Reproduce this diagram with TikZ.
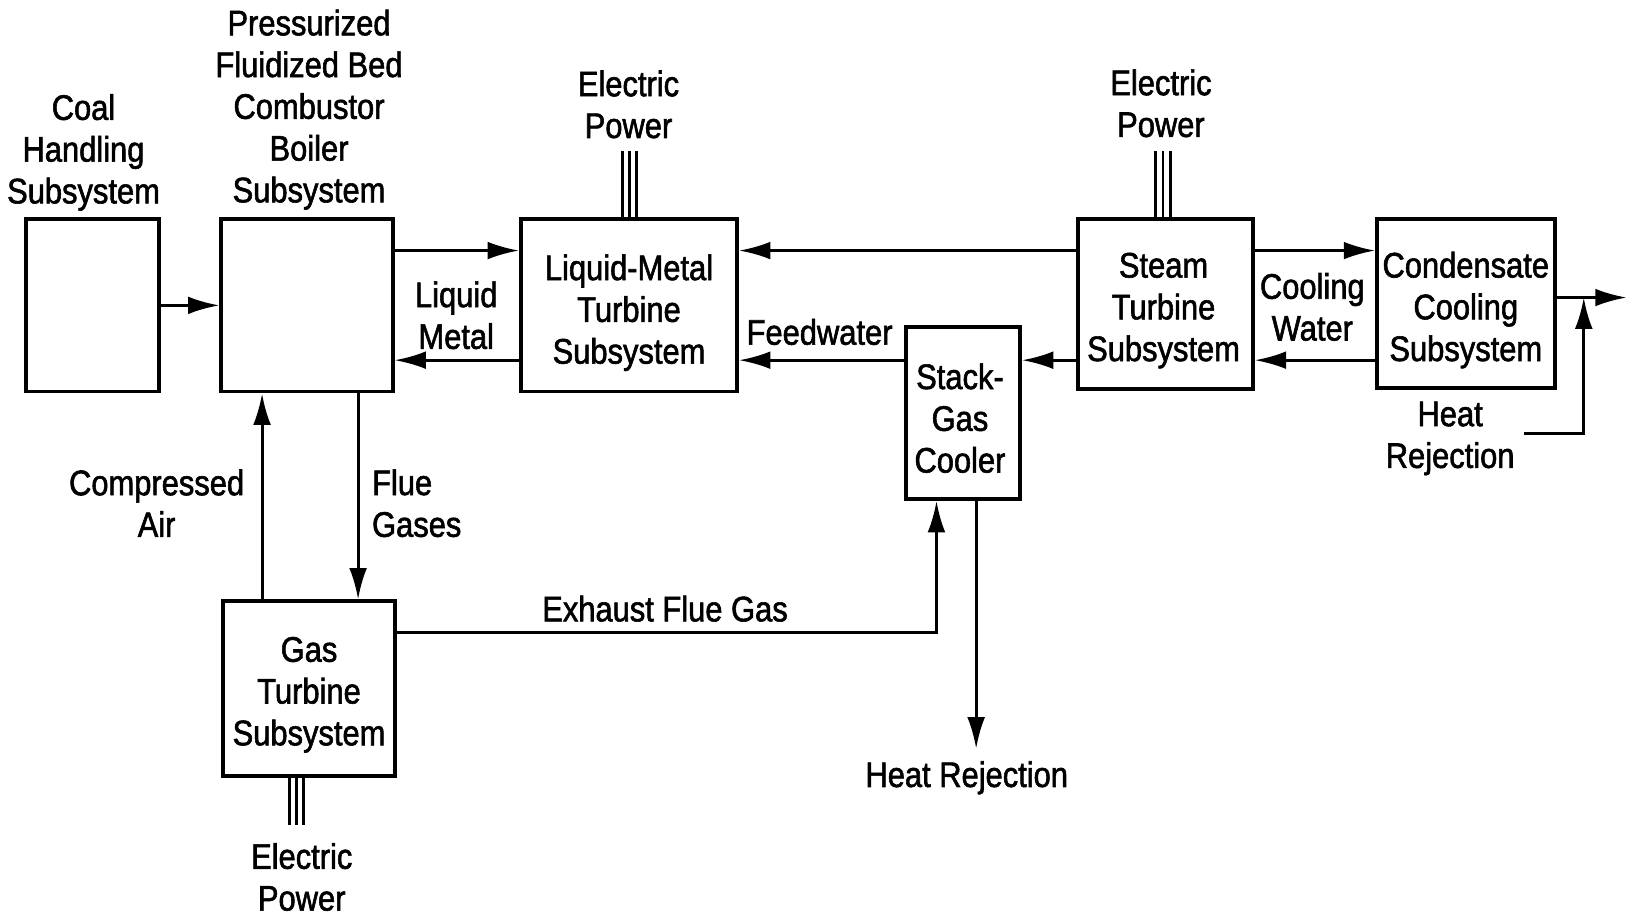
\documentclass[tikz,border=0pt]{standalone}
\usepackage{fontspec}
\setmainfont{Liberation Sans}[FakeStretch=0.87,FakeBold=1.6]
\usetikzlibrary{arrows.meta,calc}
\begin{document}
\begin{tikzpicture}[x=0.5pt,y=-0.5pt,
  every node/.style={font=\fontsize{17}{20}\selectfont},
  box/.style={draw,line width=1.9pt,inner sep=0pt},
  lbl/.style={align=center,inner sep=0pt},
  flow/.style={line width=1.4pt,-{Latex[length=15pt,width=8.5pt]}},
  wire/.style={line width=1.4pt}]
\useasboundingbox (0,0) rectangle (1568,878);
% boxes
\node[box,minimum width=63.5pt,minimum height=82.5pt] (coal) at (88.5,292.5) {};
\node[box,minimum width=82pt,minimum height=82.5pt] (pfbc) at (294,292.5) {};
\node[box,minimum width=103.5pt,minimum height=82.5pt] (lm) at (602.5,292.5) {};
\node[box,minimum width=83.5pt,minimum height=81.5pt] (steam) at (1116.5,291.5) {};
\node[box,minimum width=54.5pt,minimum height=82.5pt] (stack) at (922.5,395.5) {};
\node[box,minimum width=85pt,minimum height=81pt] (cond) at (1404,291) {};
\node[box,minimum width=82pt,minimum height=83.5pt] (gt) at (296,659.5) {};
% box texts
\node[lbl] (lmT) at ($(lm.center)+(0,7)$) {Liquid-Metal\\Turbine\\Subsystem};
\node[lbl] (steamT) at ($(steam.center)+(-2,6)$) {Steam\\Turbine\\Subsystem};
\node[lbl] (stackT) at ($(stack.center)+(-3,5)$) {Stack-\\Gas\\Cooler};
\node[lbl] (condT) at ($(cond.center)+(0,6)$) {Condensate\\Cooling\\Subsystem};
\node[lbl] (gtT) at ($(gt.center)+(0,6)$) {Gas\\Turbine\\Subsystem};
% labels
\node[lbl] (coalL) at (80,146) {Coal\\Handling\\Subsystem};
\node[lbl] (pfbcL) at (296,105) {Pressurized\\Fluidized Bed\\Combustor\\Boiler\\Subsystem};
\node[lbl] (epLM) at (602,100) {Electric\\Power};
\node[lbl] (epST) at (1112,99) {Electric\\Power};
\node[lbl] (epGT) at (289,840) {Electric\\Power};
\node[lbl] (lmL) at (437,302) {Liquid\\Metal};
\node[lbl] (cwL) at (1257,294) {Cooling\\Water};
\node[lbl] (fwL) at (785,318) {Feedwater};
\node[lbl] (caL) at (150,482) {Compressed\\Air};
\node[lbl,align=left,anchor=west] (fgL) at (356,482) {Flue\\Gases};
\node[lbl] (hrR) at (1389,420) {Heat\\Rejection};
\node[lbl] (efL) at (637,583) {Exhaust Flue Gas};
\node[lbl] (hrB) at (926,745) {Heat Rejection};
% helper coordinates
\coordinate (yTop) at (0,240);
\coordinate (yBot) at (0,345);
\coordinate (yOut) at (0,285);
\coordinate (xAir) at (251,0);
\coordinate (xFlue) at (343,0);
\coordinate (yEx) at (0,606);
\coordinate (xEx) at (897,0);
\coordinate (xHR) at (935,0);
\coordinate (hrEnd) at (935,717);
\coordinate (outEnd) at (1558,285);
\coordinate (hrStart) at (1460,415);
\coordinate (xRej) at (1517,0);
\coordinate (topLM) at (603,145);
\coordinate (topST) at (1114,145);
\coordinate (botGT) at (284,790);
% connectors
\draw[flow] (coal.east) -- (pfbc.west);
\draw[flow] (pfbc.east |- yTop) -- (lm.west |- yTop);
\draw[flow] (lm.west |- yBot) -- (pfbc.east |- yBot);
\draw[flow] (steam.west |- yTop) -- (lm.east |- yTop);
\draw[flow] (stack.west |- yBot) -- (lm.east |- yBot);
\draw[flow] (steam.west |- yBot) -- (stack.east |- yBot);
\draw[flow] (steam.east |- yTop) -- (cond.west |- yTop);
\draw[flow] (cond.west |- yBot) -- (steam.east |- yBot);
\draw[flow] (cond.east |- yOut) -- (outEnd);
\draw[flow] (hrStart) -| (xRej |- yOut);
\draw[flow] (gt.north -| xAir) -- (pfbc.south -| xAir);
\draw[flow] (pfbc.south -| xFlue) -- (gt.north -| xFlue);
\draw[flow] (gt.east |- yEx) -| (stack.south -| xEx);
\draw[flow] (stack.south -| xHR) -- (hrEnd);
% electric power triple wires
\foreach \d in {-7,0,7} {
  \draw[wire] ($(lm.north -| topLM)+(\d,0)$) -- ($(topLM)+(\d,0)$);
  \draw[wire] ($(steam.north -| topST)+(\d,0)$) -- ($(topST)+(\d,0)$);
  \draw[wire] ($(gt.south -| botGT)+(\d,0)$) -- ($(botGT)+(\d,0)$);
}
\end{tikzpicture}
\end{document}
